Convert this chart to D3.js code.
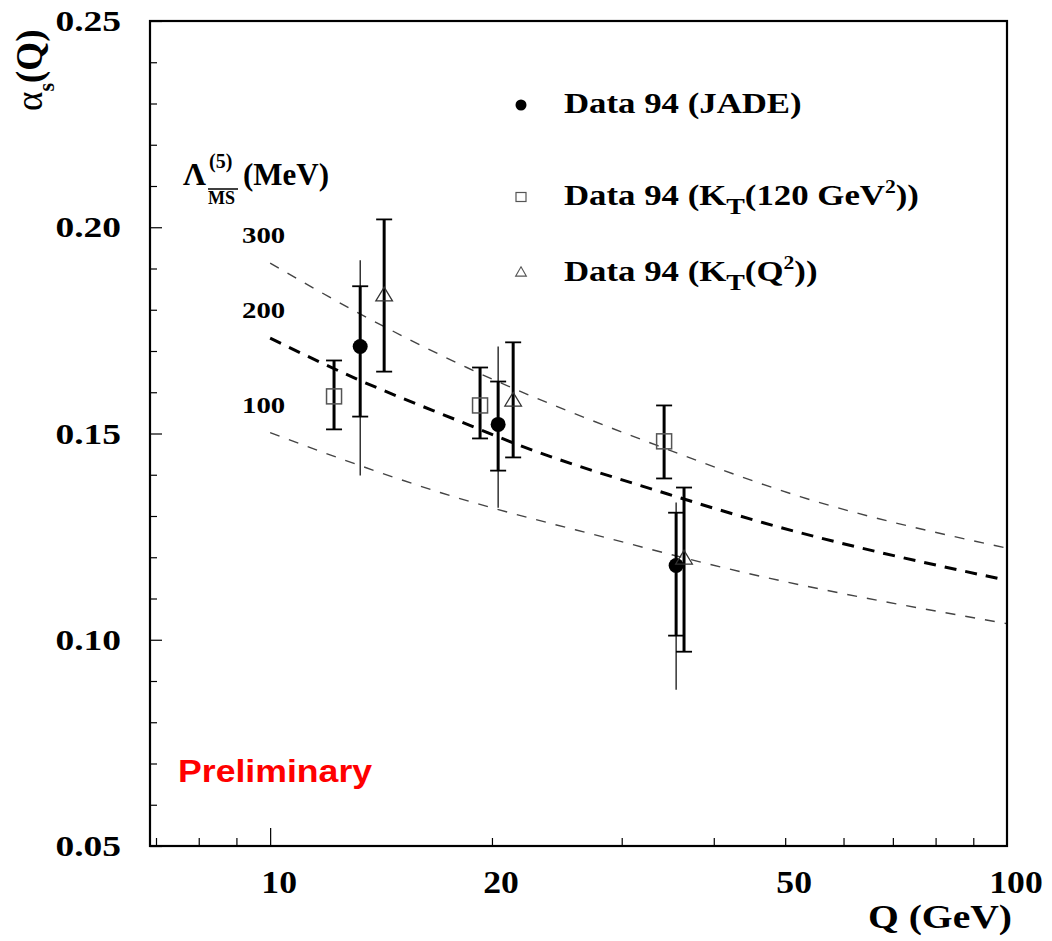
<!DOCTYPE html>
<html><head><meta charset="utf-8">
<script src="https://cdn.jsdelivr.net/npm/d3@7"></script>
<style>body{margin:0;background:#fff} svg{display:block}</style>
</head><body><svg id="c" width="1052" height="941"></svg>
<script>
// ---- data ----
const xLabelTicks = [10, 20, 50, 100];
const xMajorTicks = [10];
const xMinorTicks = [7, 8, 9, 20, 30, 40, 50, 60, 70, 80, 90];
const yMajorTicks = [0.05, 0.10, 0.15, 0.20, 0.25];
const yMinorTicks = [0.06,0.07,0.08,0.09,0.11,0.12,0.13,0.14,0.16,0.17,0.18,0.19,0.21,0.22,0.23,0.24];

const jadeQ      = [13.25, 20.39, 35.56];
const jadeAlpha  = [0.1711, 0.1522, 0.1180];
const jadeStatLo = [0.1541, 0.1410, 0.1010];
const jadeStatHi = [0.1857, 0.1626, 0.1308];
const jadeTotLo  = [0.1398, 0.1320, 0.0879];
const jadeTotHi  = [0.1920, 0.1711, 0.1333];

const kt120Q     = [12.21, 19.27, 34.25];
const kt120Alpha = [0.1590, 0.1568, 0.1481];
const kt120Lo    = [0.1510, 0.1488, 0.1391];
const kt120Hi    = [0.1677, 0.1660, 0.1568];

const ktQ2Q      = [14.28, 21.37, 36.45];
const ktQ2Alpha  = [0.1835, 0.1580, 0.1197];
const ktQ2Lo     = [0.1650, 0.1442, 0.0971];
const ktQ2Hi     = [0.2019, 0.1721, 0.1369];

const lambdaLabels = ["300", "200", "100"];
const curve300Q = [10, 13.12, 18.49, 33.51, 52.4, 100];
const curve300A = [0.1913, 0.1794, 0.1660, 0.1471, 0.1347, 0.1222];
const curve200Q = [10, 12.96, 18.12, 21.83, 34.55, 46.2, 100];
const curve200A = [0.1731, 0.1636, 0.1529, 0.1471, 0.1354, 0.1286, 0.1144];
const curve100Q = [10, 12.33, 17.01, 29.2, 43.5, 100];
const curve100A = [0.1502, 0.1442, 0.1357, 0.1243, 0.1165, 0.1039];

const legendLabels = [
  [["Data 94 (JADE)"]],
  [["Data 94 (K"], ["T","sub"], ["(120 GeV"], ["2","sup"], ["))"]],
  [["Data 94 (K"], ["T","sub"], ["(Q"], ["2","sup"], ["))"]]
];

// ---- layout ----
const L = 150, R = 1007, T = 21, B = 846;
const SERIF = '"Liberation Serif","Times New Roman",serif';
const SANS = '"Liberation Sans",Arial,sans-serif';
const svg = d3.select("#c");
const x = d3.scaleLog().domain([6.87, 100]).range([L, R]);
const y = d3.scaleLinear().domain([0.05, 0.25]).range([B, T]);

function txt(parent, px, py, parts, o) {
  const g = parent.append("g")
    .attr("transform", `translate(${px},${py}) rotate(${o.rotate||0}) scale(${o.sx||1},1)`);
  const t = g.append("text")
    .attr("font-family", o.family || SERIF)
    .attr("font-weight", o.weight || "bold")
    .attr("font-size", o.size)
    .attr("text-anchor", o.anchor || "start")
    .attr("fill", o.fill || "#000");
  let cur = 0;
  parts.forEach(p => {
    const s = p[0], k = p[1] || "n";
    let target = 0;
    if (k === "sub") target = o.size * 0.32;
    if (k === "sup") target = -o.size * 0.42;
    const ts = t.append("tspan").text(s).attr("dy", target - cur);
    if (k === "sub") ts.attr("font-size", o.size * (o.subScale || 0.8));
    if (k === "sup") ts.attr("font-size", o.size * 0.62);
    if (p[2]) ts.attr("font-weight", p[2]);
    cur = target;
  });
  return t;
}

// ---- curves ----
const line = d3.line().x(d => x(d[0])).y(d => y(d[1])).curve(d3.curveMonotoneX);
const curves = [
  {q: curve300Q, a: curve300A, w: 1.4, c: "#444", dash: "10,10"},
  {q: curve200Q, a: curve200A, w: 3, c: "#000", dash: "12,9"},
  {q: curve100Q, a: curve100A, w: 1.4, c: "#444", dash: "10,10"}
];
curves.forEach(cv => {
  svg.append("path")
    .datum(cv.q.map((q, i) => [q, cv.a[i]]))
    .attr("d", line).attr("fill", "none")
    .attr("stroke", cv.c).attr("stroke-width", cv.w)
    .attr("stroke-dasharray", cv.dash);
});
lambdaLabels.forEach((lab, i) => {
  const a = curves[i].a[0];
  txt(svg, 242, y(a) - 20, [[lab]], {size: 24, sx: 1.2});
});

// ---- error bars & markers ----
function errBar(q, lo, hi, w, cap) {
  const g = svg.append("g");
  q.forEach((qq, i) => {
    g.append("line").attr("x1", x(qq)).attr("x2", x(qq))
      .attr("y1", y(lo[i])).attr("y2", y(hi[i]))
      .attr("stroke", "#000").attr("stroke-width", w);
    if (cap) [lo[i], hi[i]].forEach(v => {
      g.append("line").attr("x1", x(qq) - cap/2).attr("x2", x(qq) + cap/2)
        .attr("y1", y(v)).attr("y2", y(v))
        .attr("stroke", "#000").attr("stroke-width", 1.8);
    });
  });
}
errBar(jadeQ, jadeTotLo, jadeTotHi, 1.2, 0);
errBar(jadeQ, jadeStatLo, jadeStatHi, 3, 16);
errBar(kt120Q, kt120Lo, kt120Hi, 3, 16);
errBar(ktQ2Q, ktQ2Lo, ktQ2Hi, 3, 16);

svg.append("g").selectAll("circle").data(jadeQ).join("circle")
  .attr("cx", d => x(d)).attr("cy", (d, i) => y(jadeAlpha[i])).attr("r", 7.5)
  .attr("fill", "#000");
svg.append("g").selectAll("rect").data(kt120Q).join("rect")
  .attr("x", d => x(d) - 7.5).attr("y", (d, i) => y(kt120Alpha[i]) - 7.5)
  .attr("width", 15).attr("height", 15)
  .attr("fill", "none").attr("stroke", "#555").attr("stroke-width", 1.5);
const tri = d3.symbol().type(d3.symbolTriangle).size(120);
svg.append("g").selectAll("path").data(ktQ2Q).join("path")
  .attr("d", tri)
  .attr("transform", (d, i) => `translate(${x(d)},${y(ktQ2Alpha[i]) + 1}) scale(1.0,0.95)`)
  .attr("fill", "none").attr("stroke", "#333").attr("stroke-width", 1.3);

// ---- frame & axes ----
svg.append("rect").attr("x", L).attr("y", T).attr("width", R - L).attr("height", B - T)
  .attr("fill", "none").attr("stroke", "#000").attr("stroke-width", 2.2);

const axB = svg.append("g").attr("transform", `translate(0,${B})`);
axB.call(d3.axisBottom(x).tickValues(xMinorTicks).tickSize(-8).tickFormat(""));
axB.append("g").call(d3.axisBottom(x).tickValues(xMajorTicks).tickSize(-18).tickFormat(""));
axB.selectAll(".domain").remove();
axB.selectAll("line").attr("stroke", "#000").attr("stroke-width", 1.2);

const axL = svg.append("g").attr("transform", `translate(${L},0)`);
axL.call(d3.axisLeft(y).tickValues(yMinorTicks).tickSize(-7).tickFormat(""));
axL.append("g").call(d3.axisLeft(y).tickValues(yMajorTicks).tickSize(-12).tickFormat(""));
axL.selectAll(".domain").remove();
axL.selectAll("line").attr("stroke", "#000").attr("stroke-width", 1.2);

yMajorTicks.forEach(v => {
  txt(svg, 121, y(v) + 10, [[d3.format(".2f")(v)]], {size: 30, sx: 1.25, anchor: "end"});
});
xLabelTicks.forEach(v => {
  txt(svg, x(v) + 9, 893, [[String(v)]], {size: 31, sx: 1.15, anchor: "middle"});
});
txt(svg, 1012, 928, [["Q (GeV)"]], {size: 33, sx: 1.2, anchor: "end"});
txt(svg, 42, 111, [["α", "n", "normal"], ["s", "sub"], ["(Q)"]], {size: 37, sx: 1.0, rotate: -90, subScale: 0.6});

// Lambda label
txt(svg, 183, 185, [["Λ"]], {size: 32, sx: 1});
txt(svg, 209, 168, [["(5)"]], {size: 20, sx: 1});
txt(svg, 208, 204, [["MS"]], {size: 19, sx: 0.95});
svg.append("line").attr("x1", 208).attr("x2", 238).attr("y1", 189).attr("y2", 189)
  .attr("stroke", "#000").attr("stroke-width", 1.5);
txt(svg, 243, 185, [["(MeV)"]], {size: 31, sx: 1});

// legend
const legY = [105, 197, 273];
svg.append("circle").attr("cx", 521).attr("cy", legY[0]).attr("r", 5.5).attr("fill", "#000");
svg.append("rect").attr("x", 516).attr("y", legY[1] - 4.5).attr("width", 10).attr("height", 9)
  .attr("fill", "none").attr("stroke", "#555").attr("stroke-width", 1.2);
svg.append("path").attr("d", d3.symbol().type(d3.symbolTriangle).size(50))
  .attr("transform", `translate(521,${legY[2]})`)
  .attr("fill", "none").attr("stroke", "#555").attr("stroke-width", 1.1);
legendLabels.forEach((parts, i) => {
  txt(svg, 564, legY[i] + 8, parts, {size: 29, sx: 1.2});
});

// Preliminary
txt(svg, 178, 782, [["Preliminary"]], {size: 31, sx: 1.15, family: SANS, fill: "#ff0000"});
</script></body></html>
